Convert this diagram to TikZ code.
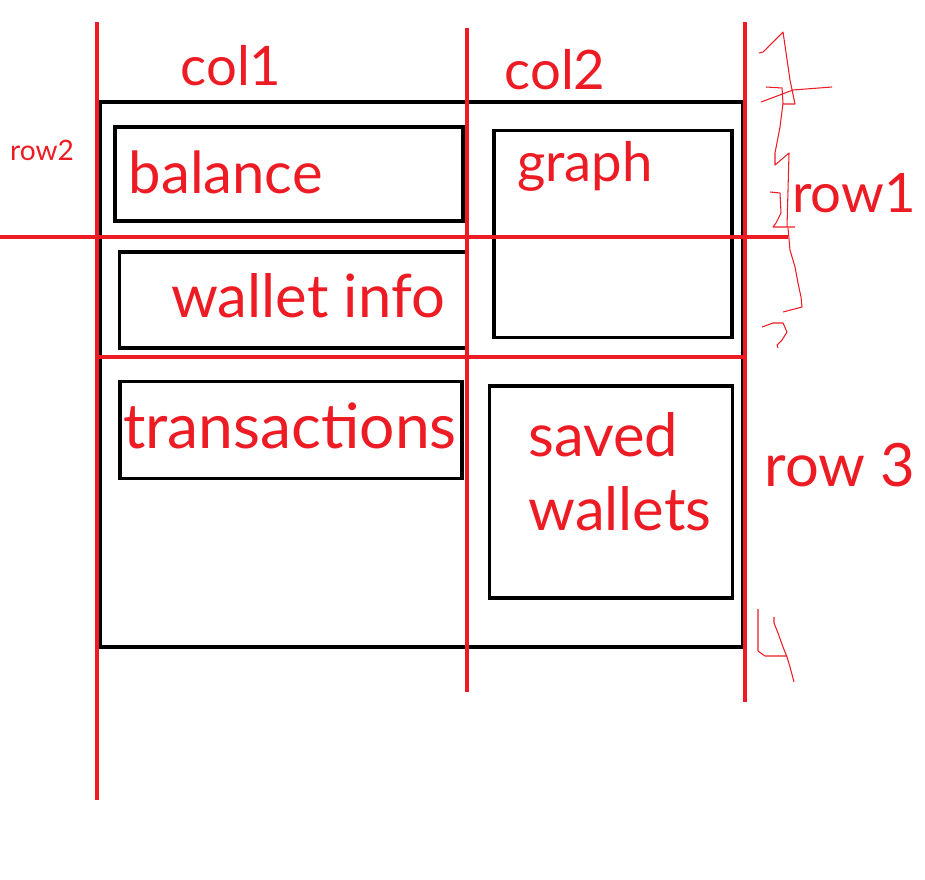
\documentclass[tikz,border=0pt]{standalone}
\usepackage{fontspec}
\setmainfont{Lato}
\usetikzlibrary{positioning}
\definecolor{sketchred}{RGB}{237,28,36}
\tikzset{
	gridline/.style = {draw=sketchred, line width=2.4pt},
	frame/.style = {draw=black, line width=1.8pt},
	panel/.style = {rectangle, draw=black, line width=1.8pt, inner sep=0pt},
	tag/.style = {text=sketchred, font=\fontsize{31}{36}\selectfont, inner sep=0pt, align=left},
	bigtag/.style = {tag, font=\fontsize{34}{42}\selectfont},
	smalltag/.style = {text=sketchred, font=\fontsize{16}{18}\selectfont, inner sep=0pt},
	scribble/.style = {draw=sketchred, line width=0.6pt, line join=round}
}
\begin{document}
\begin{tikzpicture}[x=0.02cm, y=-0.02cm]
		\useasboundingbox (0,0) rectangle (925,879);
		
		% outer frame
		\draw [frame] (100,102) rectangle (743,647);
		
		% panels
		\node (balance_box) [panel, minimum width=348*0.02cm, minimum height=94*0.02cm] at (289,174) {};
		\node (wallet_box) [panel, minimum width=347*0.02cm, minimum height=96*0.02cm] at (293,300) {};
		\node (graph_box) [panel, minimum width=238*0.02cm, minimum height=207*0.02cm] at (613,234) {};
		\node (tx_box) [panel, minimum width=342*0.02cm, minimum height=97*0.02cm] at (291,430) {};
		\node (saved_box) [panel, minimum width=243*0.02cm, minimum height=212*0.02cm] at (611,492) {};
		
		% grid lines
		\coordinate (col1_top) at (97,22);
		\coordinate (col1_bot) at (97,800);
		\coordinate (col2_top) at (467,28);
		\coordinate (col2_bot) at (467,692);
		\coordinate (col3_top) at (745,22);
		\coordinate (col3_bot) at (745,702);
		\coordinate (row_a_left) at (0,237);
		\coordinate (row_a_right) at (788,237);
		\coordinate (row_b_left) at (97,357);
		\coordinate (row_b_right) at (745,357);
		\draw [gridline] (col1_top) -- (col1_bot);
		\draw [gridline] (col2_top) -- (col2_bot);
		\draw [gridline] (col3_top) -- (col3_bot);
		\draw [gridline] (row_a_left) -- (row_a_right);
		\draw [gridline] (row_b_left) -- (row_b_right);
		
		% labels
		\node (col1) [tag] at (231,66) {col1};
		\node (col2) [tag] at (555,70) {col2};
		\node (row2) [smalltag] at (42,150) {row2};
		\node (row1) [tag] at (854,193) {row1};
		\node (row3) [bigtag] at (840,465) {row 3};
		\node (balance) [tag, font=\fontsize{33}{38}\selectfont, right=0pt of balance_box.west, xshift=15*0.02cm, yshift=2*0.02cm] {balance};
		\node (wallet) [bigtag] at (308,296) {wallet info};
		\node (graph) [tag] at (585,166) {graph};
		\node (tx) [bigtag, font=\fontsize{35.5}{42}\selectfont] at (290,426) {transactions};
		\node (saved) [bigtag, anchor=west] at (528,472) {saved\\wallets};
		
		% scribbled row numbers
		\draw [scribble] (759,53) -- (763,52) -- (772,43) -- (783,32) -- (790,80) -- (795,104) -- (783,104);
		\draw [scribble] (761,102) -- (793,90) -- (832,87);
		\draw [scribble] (766,87) -- (782,88) -- (783,103) -- (780,127) -- (775,153) -- (775,165) -- (789,153) -- (787,227);
		\draw [scribble] (770,192) -- (780,193) -- (781,213) -- (776,223) -- (773,227) -- (795,227);
		\draw [scribble] (788,228) -- (790,250) -- (795,267) -- (798,283) -- (801,297) -- (802,307) -- (783,312);
		\draw [scribble] (762,327) -- (773,323) -- (783,323) -- (787,332) -- (782,340) -- (777,345) -- (778,348);
		\draw [scribble] (758,609) -- (758,651) -- (765,656) -- (787,656);
		\draw [scribble] (774,617) -- (774,623) -- (778,633) -- (783,647) -- (787,657) -- (790,667) -- (794,682);
		
	\end{tikzpicture}
\end{document}
